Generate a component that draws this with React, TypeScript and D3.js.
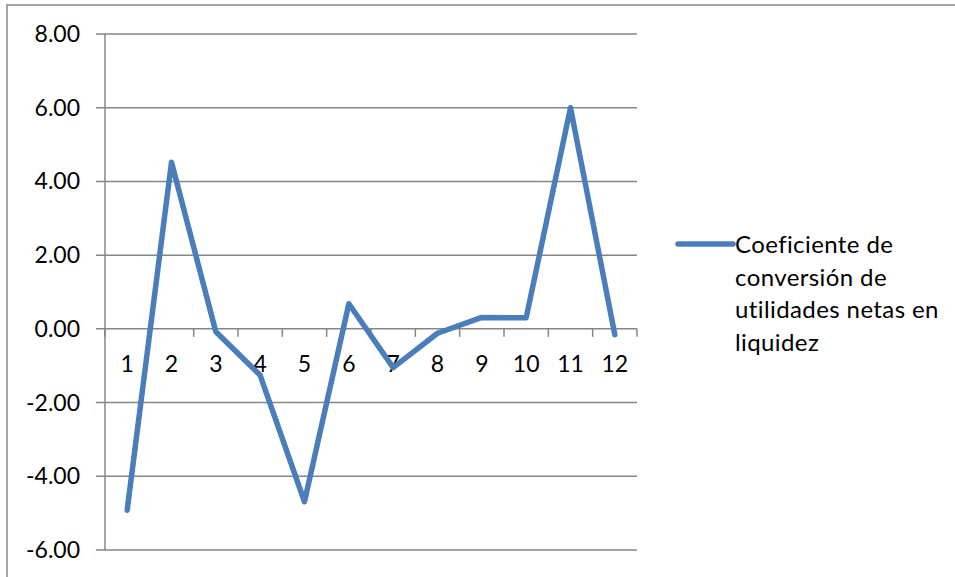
import React from 'react';
import * as d3 from 'd3';

// periods and the ratio series
const periods = ['1', '2', '3', '4', '5', '6', '7', '8', '9', '10', '11', '12'];
const ratio = [-4.92, 4.52, -0.08, -1.26, -4.69, 0.68, -1.05, -0.12, 0.31, 0.3, 6.0, -0.16];
const yTicks = [-6, -4, -2, 0, 2, 4, 6, 8];
const legendLines = ['Coeficiente de', 'conversión de', 'utilidades netas en', 'liquidez'];

const W = 955;
const H = 577;
const grid = '#868686';
const blue = '#4a7ebb';
const font = 'Lato, "Open Sans", sans-serif';

const App: React.FC = () => {
  const x = d3.scaleBand<string>().domain(periods).range([105, 637]);
  const y = d3.scaleLinear().domain([-6, 8]).range([550, 34]);

  const line = d3
    .line<number>()
    .x((_, i) => (x(periods[i]) as number) + x.bandwidth() / 2)
    .y(d => y(d));

  const boundaries = periods.map(p => x(p) as number).concat([x.range()[1]]);

  return (
    <svg
      width={W}
      height={H}
      style={{ position: 'absolute', left: 0, top: 0, background: '#fff' }}
    >
      <rect x={7} y={5} width={1000} height={700} fill="#fff" stroke={grid} strokeWidth={1.5} />

      {/* horizontal grid + y labels */}
      {yTicks.map(t => (
        <g key={t}>
          <line x1={96} x2={637} y1={y(t)} y2={y(t)} stroke={grid} strokeWidth={1.5} />
          <text
            x={80}
            y={y(t)}
            dy="0.35em"
            textAnchor="end"
            fontFamily={font}
            fontSize={23}
            fill="#000"
          >
            {t.toFixed(2)}
          </text>
        </g>
      ))}

      {/* y axis */}
      <line x1={105} x2={105} y1={y(8)} y2={y(-6)} stroke={grid} strokeWidth={1.5} />

      {/* x axis ticks at category boundaries */}
      {boundaries.map((b, i) => (
        <line key={i} x1={b} x2={b} y1={y(0)} y2={y(0) + 8} stroke={grid} strokeWidth={1.5} />
      ))}
      {periods.map(p => (
        <text
          key={p}
          x={(x(p) as number) + x.bandwidth() / 2}
          y={372}
          textAnchor="middle"
          fontFamily={font}
          fontSize={23}
          fill="#000"
        >
          {p}
        </text>
      ))}

      <path
        d={line(ratio) || ''}
        fill="none"
        stroke={blue}
        strokeWidth={5.5}
        strokeLinejoin="round"
        strokeLinecap="round"
      />

      {/* legend */}
      <line x1={678} x2={733} y1={244} y2={244} stroke={blue} strokeWidth={5.5} strokeLinecap="round" />
      {legendLines.map((l, i) => (
        <text key={l} x={735} y={253 + i * 32.7} fontFamily={font} fontSize={24} letterSpacing={0.4} fill="#000">
          {l}
        </text>
      ))}
    </svg>
  );
};

export default App;
